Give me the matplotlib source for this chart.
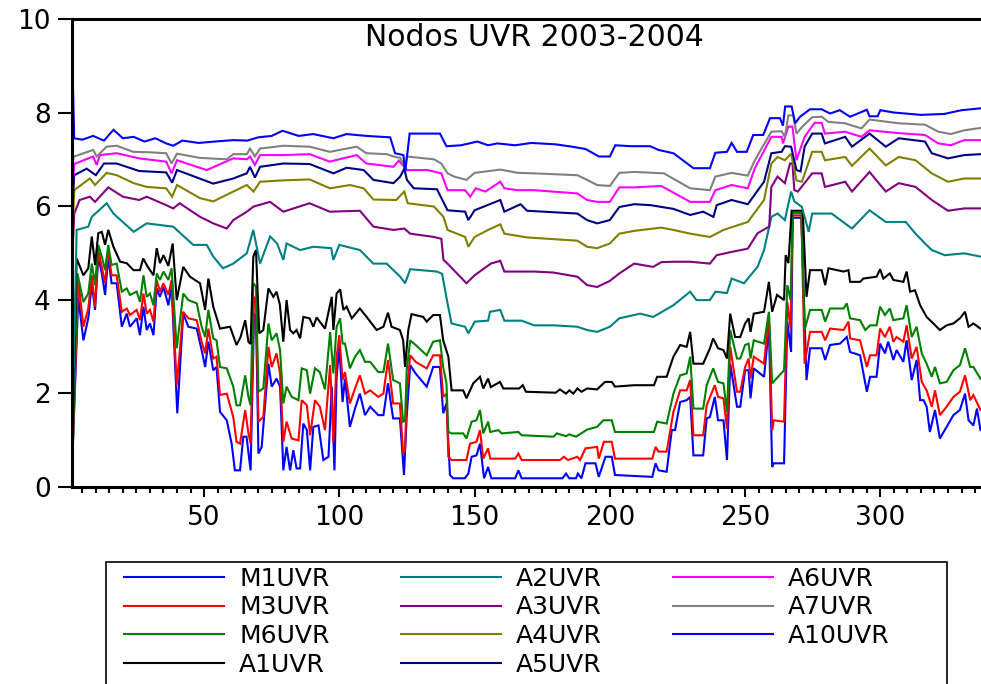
import matplotlib
matplotlib.use("Agg")
import matplotlib.pyplot as plt
from matplotlib.ticker import MultipleLocator
from matplotlib.patches import Rectangle

plt.rcParams['font.family'] = ['DejaVu Sans']

M1_PTS = [(1, 0.05), (3.5, 4.06), (5.4, 3.13), (7.2, 3.6), (8.5, 4.35), (9.7, 3.78), (10.9, 4.92), (12.2, 4.56),
          (13.4, 4.1), (14.6, 4.92), (15.8, 4.35), (17.7, 4.35), (19.6, 3.42), (21.4, 3.70), (22.6, 3.42), (25.1, 3.6),
          (26.3, 3.24), (27.6, 3.85), (28.8, 3.35), (30, 3.49), (31.3, 3.24), (32.5, 4.24), (33.7, 4.06), (35, 4.27),
          (36.8, 3.88), (38, 4.27), (40.1, 1.57), (42.3, 3.70), (44.2, 3.42), (47.3, 3.38), (49.1, 2.92), (50.4, 2.56),
          (51.6, 3.1), (53.4, 2.49), (54.6, 2.56), (55.9, 1.6), (58.4, 1.42), (60.2, 0.92), (61.4, 0.35), (63.3, 0.35),
          (64.5, 1.07), (65.7, 1.07), (67.2, 0.35), (68.5, 3.70), (69.2, 3.63), (70.1, 0.71), (71.3, 0.85), (73.8, 2.63),
          (75, 2.14), (76.8, 2.31), (78.1, 2.14), (79.3, 0.35), (80.5, 0.85), (81.8, 0.35), (83, 0.78), (84.2, 0.39),
          (85.5, 0.39), (86.7, 1.35), (88, 1.21), (89.2, 0.35), (90.4, 1.28), (92.3, 1.31), (94.1, 0.57), (96, 0.64),
          (97.2, 2.14), (98.2, 0.35), (99, 2.35), (100, 2.99), (101.2, 1.81), (102.1, 2.31), (103.9, 1.28), (105.8, 1.67),
          (107.6, 1.99), (109.5, 1.53), (111.4, 1.71), (114.4, 1.53), (116.3, 1.53), (118, 2.21), (119.9, 1.46),
          (122.4, 1.46), (123.9, 0.25), (124.9, 1.49), (126.2, 2.6), (128.2, 2.42), (132.3, 2.14), (134.7, 2.56),
          (137.2, 2.56), (138.4, 1.57), (139.6, 1.78), (140.9, 0.25), (142.1, 0.18), (146.4, 0.18), (147.7, 0.28),
          (148.9, 0.64), (150.7, 0.67), (152, 0.92), (153.5, 0.18), (155, 0.42), (156.2, 0.18), (165, 0.18),
          (166.2, 0.35), (167.4, 0.18), (182.5, 0.18), (183.8, 0.28), (185, 0.18), (187.5, 0.18), (188.2, 0.28),
          (189.5, 0.18), (191, 0.5), (194.7, 0.5), (195.9, 0.21), (198.4, 0.64), (200.7, 0.64), (201.9, 0.25),
          (215.7, 0.21), (216.9, 0.5), (218, 0.35), (221, 0.32), (222.9, 1.21), (224.1, 1.21), (226, 1.81),
          (228.4, 1.85), (229.7, 1.92), (230.9, 0.67), (234.5, 0.67), (235.8, 1.46), (237, 1.49), (238.8, 1.92),
          (240, 1.42), (242, 1.42), (243.3, 0.57), (244.5, 2.63), (247, 1.71), (248.2, 1.71), (250, 2.49),
          (251.3, 2.49), (252, 1.89), (253.2, 2.53), (257, 2.35), (258.8, 3.42), (260, 0.42), (260.6, 0.5),
          (264.4, 0.5), (265.6, 3.53), (267, 2.88), (267.6, 5.75), (270.8, 5.75), (272.7, 2.28), (274, 2.96),
          (278.3, 2.96), (279.6, 2.71), (281.4, 3.03), (285.1, 3.06), (287.6, 3.2), (288.8, 2.88), (292.5, 2.81),
          (295, 2.03), (296.2, 2.35), (298.6, 2.35), (299.9, 3.06), (301.7, 2.85), (302.9, 3.1), (304.8, 2.71),
          (306, 2.92), (308.5, 2.67), (309.7, 3.13), (311.6, 2.28), (313.4, 2.71), (314.7, 1.85), (316, 1.85),
          (317.1, 1.71), (318.3, 1.17), (320.2, 1.64), (322, 1.03), (324.5, 1.28), (327, 1.53), (329.4, 1.64),
          (331.3, 1.99), (332.6, 1.42), (334.4, 1.31), (335.7, 1.67), (337, 1.21)]

M3_PTS = [(1, 0.0), (3.5, 4.42), (5.4, 3.42), (7.2, 3.81), (8.5, 4.52), (9.7, 3.85), (10.9, 5.06), (12.2, 4.7),
          (13.4, 4.35), (14.6, 5.06), (15.8, 4.52), (17.7, 4.52), (19.6, 3.74), (21.4, 3.81), (22.6, 3.67), (25.1, 3.78),
          (26.3, 3.56), (27.6, 4.13), (28.8, 3.70), (30, 3.78), (31.3, 3.53), (32.5, 4.42), (33.7, 4.17), (35, 4.35),
          (36.8, 4.1), (38, 4.42), (39.9, 2.17), (42.3, 3.74), (44.2, 3.6), (47.3, 3.56), (49.1, 3.1), (50.4, 2.85),
          (51.6, 3.38), (53.4, 2.74), (54.6, 2.78), (55.9, 1.96), (58.4, 1.99), (60.8, 1.49), (62, 0.96), (63.3, 0.92),
          (65.2, 1.64), (66.4, 1.14), (67.2, 0.92), (68.5, 4.06), (69.2, 3.99), (70.1, 1.39), (71.9, 1.49), (73.8, 2.99),
          (75, 2.56), (76.8, 2.85), (78.1, 2.42), (79.3, 0.96), (80.5, 1.39), (82.4, 1.03), (84.9, 0.99), (86.1, 1.85),
          (88, 1.74), (89.2, 1.10), (91, 1.85), (92.8, 1.71), (94.7, 1.21), (96.6, 2.6), (97.8, 0.96), (99, 2.78),
          (100, 3.24), (101.2, 2.28), (102.1, 2.45), (103.9, 1.78), (105.8, 2.1), (107.6, 2.38), (109.5, 1.99),
          (111.4, 2.06), (114.4, 1.92), (116.3, 1.99), (118, 2.71), (119.9, 1.78), (122.4, 1.78), (123.6, 0.71),
          (124.3, 0.78), (124.9, 1.99), (126.2, 2.81), (128.2, 2.67), (132.3, 2.53), (134.7, 2.81), (137.2, 2.81),
          (138.4, 1.92), (139.6, 1.99), (140.3, 0.64), (141.5, 0.57), (147, 0.57), (148.3, 0.92), (150.7, 0.96),
          (152, 1.21), (153.2, 0.6), (155, 0.82), (155.8, 0.6), (165, 0.6), (166.2, 0.71), (167.4, 0.57),
          (181.6, 0.57), (183, 0.64), (184.5, 0.57), (188, 0.64), (189, 0.57), (191, 0.82), (195.3, 0.85),
          (195.9, 0.60), (197.8, 0.96), (200.7, 0.96), (201.9, 0.6), (215.7, 0.6), (216.9, 0.85), (218, 0.75),
          (221, 0.75), (223.5, 1.6), (226, 2.06), (228.4, 2.06), (229.7, 2.28), (230.9, 1.10), (234.5, 1.10),
          (235.8, 1.74), (238.8, 2.17), (240, 1.92), (242, 1.89), (243.3, 1.24), (244.5, 2.99), (247, 2.03),
          (248.2, 2.03), (250, 2.56), (251.3, 2.74), (252, 2.31), (253.2, 2.78), (257, 2.63), (258.8, 3.67),
          (260, 1.21), (260.6, 1.42), (264.4, 1.39), (265.6, 3.95), (266.8, 3.38), (267.6, 5.8), (270.8, 5.8),
          (272, 2.63), (274, 3.31), (278.3, 3.31), (279.6, 3.13), (281.4, 3.38), (286.4, 3.35), (288.2, 3.53),
          (288.8, 3.17), (292.5, 3.13), (295, 2.56), (296.2, 2.81), (298.6, 2.81), (299.9, 3.38), (301.7, 3.2),
          (303.5, 3.42), (304.8, 3.1), (306, 3.2), (308.5, 3.1), (309.7, 3.45), (311.6, 2.74), (313.4, 2.99),
          (315.3, 2.24), (317.1, 2.06), (319, 1.71), (320.2, 2.06), (322, 1.53), (324.5, 1.71), (327, 1.92),
          (329.4, 2.03), (331.3, 2.38), (333.2, 1.85), (334.4, 1.96), (337, 1.64)]

M6_PTS = [(1, 0.0), (3.2, 4.56), (5.4, 3.95), (7.2, 4.13), (8.5, 4.77), (9.7, 4.31), (10.9, 5.17), (12.2, 4.92),
          (13.4, 4.63), (14.6, 5.17), (15.8, 4.74), (17.7, 4.77), (19.6, 4.17), (21.4, 4.24), (22.6, 4.1), (25.1, 4.17),
          (26.3, 3.95), (27.6, 4.52), (28.8, 4.06), (30, 4.13), (31.3, 3.88), (32.5, 4.56), (33.7, 4.42), (35, 4.6),
          (36.8, 4.42), (38, 4.67), (39.9, 2.96), (42.3, 4.13), (44.2, 3.99), (47.3, 3.92), (49.1, 3.42), (50.4, 3.2),
          (51.6, 3.78), (53.4, 3.17), (54.6, 3.13), (55.9, 2.56), (58.4, 2.53), (60.8, 2.14), (62, 1.74), (63.3, 1.74),
          (65.2, 2.38), (66.4, 1.92), (67.2, 1.74), (68.2, 4.35), (69.2, 4.28), (70.1, 2.03), (71.9, 2.1), (73.8, 3.49),
          (75, 3.13), (76.8, 3.28), (78.1, 2.92), (79.3, 1.78), (80.5, 2.14), (82.4, 1.92), (84.9, 1.85), (86.1, 2.53),
          (88, 2.49), (89.2, 1.99), (91, 2.53), (92.8, 2.45), (94.7, 2.08), (96.6, 3.31), (97.8, 2.42), (99, 3.42),
          (100.3, 3.6), (101.2, 3.06), (102.1, 3.06), (103.9, 2.53), (105.8, 2.78), (107.6, 2.92), (109.5, 2.67),
          (111.4, 2.67), (114.4, 2.45), (116.3, 2.45), (118, 3.06), (119.9, 2.28), (122.4, 2.21), (123.6, 1.39),
          (124.3, 1.42), (124.9, 2.49), (126.2, 3.13), (128.2, 3.03), (132.3, 2.81), (134.7, 3.10), (137.2, 3.13),
          (138.4, 2.56), (139.6, 2.21), (140.3, 1.17), (141.5, 1.14), (145.8, 1.14), (147, 1.03), (148.9, 1.39),
          (150.7, 1.42), (152, 1.64), (153.2, 1.14), (155, 1.39), (155.8, 1.17), (158.8, 1.21), (160, 1.14),
          (166.2, 1.17), (167.4, 1.10), (179.2, 1.07), (180.4, 1.14), (183.8, 1.08), (185, 1.12), (187.5, 1.07),
          (191.6, 1.22), (195.3, 1.28), (197.6, 1.42), (200.7, 1.42), (201.9, 1.17), (209, 1.17), (216.3, 1.17),
          (217.5, 1.39), (221, 1.35), (223.5, 1.99), (226, 2.38), (228.4, 2.42), (229.7, 2.78), (230.9, 1.67),
          (234.5, 1.67), (235.8, 2.17), (238.2, 2.53), (240, 2.24), (242, 2.21), (243.3, 1.6), (244.5, 3.35),
          (247, 2.74), (248.2, 2.74), (250, 3.03), (251.3, 3.06), (252, 2.74), (253.2, 3.13), (257, 3.06),
          (258.8, 3.74), (260, 2.21), (264.4, 2.49), (265.6, 4.31), (266.8, 3.99), (267.6, 5.85), (270.8, 5.85),
          (272, 3.35), (274, 3.78), (278.3, 3.78), (279.6, 3.53), (281.4, 3.81), (286.4, 3.81), (287.6, 3.92),
          (288.8, 3.6), (292.5, 3.56), (294.4, 3.35), (296.2, 3.45), (298.6, 3.45), (299.9, 3.85), (301.7, 3.67),
          (303.5, 3.81), (304.8, 3.56), (308.5, 3.6), (309.7, 3.88), (311.6, 3.2), (313.4, 3.42), (315.3, 2.85),
          (317.1, 2.63), (319, 2.35), (320.2, 2.56), (322, 2.21), (324.5, 2.24), (327, 2.49), (329.4, 2.6),
          (331.3, 2.96), (333.2, 2.56), (334.4, 2.56), (337, 2.31)]

A1_PTS = [(1, 0.05), (2.9, 4.88), (5.4, 4.52), (7.2, 4.67), (8.5, 5.35), (9.7, 4.74), (10.9, 5.42), (12.2, 5.45),
          (13.4, 5.17), (14.6, 5.49), (16.5, 5.13), (19, 4.81), (21.4, 4.78), (23.9, 4.63), (26.3, 4.63), (27.5, 4.88),
          (29, 4.72), (31.3, 4.52), (32.5, 5.1), (33.7, 4.78), (35, 4.95), (36.8, 4.72), (38.4, 5.2), (39.9, 3.99),
          (42.3, 4.7), (44.8, 4.49), (48.5, 4.35), (50.4, 3.78), (51.6, 4.45), (53.4, 3.85), (55.9, 3.38), (59.6, 3.42),
          (62, 3.03), (63.5, 3.2), (65.2, 3.56), (66.4, 3.10), (67.2, 3.05), (68.2, 4.92), (69.2, 5.06), (70.4, 3.28),
          (71.9, 3.35), (73.8, 4.24), (75.6, 4.06), (76.8, 4.17), (78, 3.9), (79.3, 3.10), (80.5, 3.99), (81.8, 3.35),
          (83, 3.28), (84.2, 3.35), (85.5, 3.17), (86.7, 3.63), (89, 3.6), (90.4, 3.42), (91.6, 3.62), (94.7, 3.38),
          (97.2, 4.06), (97.8, 3.35), (99, 4.13), (100.3, 4.22), (101.5, 3.78), (102.7, 3.85), (104.6, 3.6),
          (107.6, 3.81), (110.1, 3.63), (113.8, 3.35), (116.3, 3.42), (118, 3.72), (119.3, 3.42), (122.4, 3.35),
          (123.6, 3.13), (124.3, 2.56), (125.5, 3.35), (126.7, 3.69), (131, 3.63), (132.3, 3.53), (134.7, 3.67),
          (137.2, 3.67), (138.4, 3.13), (140.3, 2.78), (141.5, 2.06), (145.8, 2.06), (147, 1.89), (149.5, 2.21),
          (152, 2.35), (153.2, 2.1), (155, 2.31), (156, 2.13), (159.4, 2.24), (160.6, 2.1), (166.5, 2.1),
          (167.8, 2.17), (169, 2.03), (180, 2.01), (181.5, 2.08), (183.8, 1.99), (185, 2.06), (186.5, 1.99),
          (188, 2.1), (189.5, 2.03), (191.6, 2.1), (195.3, 2.08), (198.2, 2.24), (200.7, 2.24), (201.9, 2.14),
          (209, 2.17), (216.3, 2.17), (217.5, 2.35), (221, 2.35), (223.5, 2.78), (226, 3.03), (228.4, 2.99),
          (229.7, 3.31), (230.9, 2.63), (234.5, 2.63), (237, 2.96), (238.2, 3.17), (240, 2.96), (242, 2.92),
          (243.3, 2.74), (244.5, 3.7), (246.3, 3.2), (248.2, 3.2), (250, 3.49), (251.3, 3.6), (252, 3.31),
          (253.2, 3.70), (257, 3.74), (258.8, 4.38), (260, 3.74), (261.8, 4.1), (264.4, 3.99), (265, 4.95),
          (266, 4.78), (267.2, 5.9), (271.3, 5.9), (272.7, 4.06), (274, 4.63), (278.3, 4.63), (279.6, 4.31),
          (280.8, 4.67), (286.4, 4.6), (288.2, 4.63), (288.8, 4.38), (292.5, 4.38), (293.7, 4.45), (298.6, 4.49),
          (299.9, 4.65), (301.1, 4.45), (303.5, 4.56), (304.8, 4.42), (308.5, 4.38), (309.7, 4.6), (311, 4.17),
          (312.8, 4.2), (314.7, 3.88), (317.1, 3.63), (319.6, 3.49), (322, 3.35), (324.5, 3.45), (327, 3.49),
          (329.4, 3.6), (331.3, 3.74), (332.6, 3.42), (334.4, 3.49), (337, 3.38)]

A2_PTS = [(1, 0.2), (2.9, 5.49), (7.2, 5.56), (8.5, 5.77), (14, 6.06), (16.5, 5.84), (24, 5.45), (28.8, 5.63),
          (38.6, 5.56), (46, 5.17), (51, 5.17), (53.4, 4.92), (57, 4.67), (60.8, 4.77), (65.8, 4.99), (68.2, 5.49),
          (70.7, 4.77), (74.4, 5.35), (77, 5.2), (79.3, 4.85), (80.5, 5.2), (85.5, 5.06), (90.4, 5.13), (97, 5.1),
          (97.8, 4.85), (100, 5.17), (107.6, 5.06), (112.6, 4.77), (117.5, 4.77), (122.5, 4.49), (124.3, 4.35),
          (126.2, 4.65), (136.1, 4.6), (138, 4.55), (140, 3.92), (141.5, 3.49), (146.5, 3.42), (147.7, 3.28),
          (150.1, 3.53), (155, 3.55), (155.7, 3.74), (159.5, 3.78), (161, 3.55), (167.4, 3.55), (172, 3.45),
          (179.4, 3.45), (188, 3.42), (191.6, 3.35), (195.3, 3.31), (200, 3.42), (203.5, 3.6), (211.2, 3.7),
          (216, 3.63), (223.5, 3.88), (229.7, 4.17), (232, 3.99), (237, 3.99), (239, 4.17), (243.3, 4.14),
          (245, 4.45), (249.6, 4.35), (254.6, 4.70), (257, 5.06), (259.7, 5.77), (262, 5.84), (264.7, 5.70),
          (267, 6.31), (268.2, 6.1), (271, 5.98), (273.5, 5.45), (274.8, 5.84), (282, 5.84), (289.5, 5.52),
          (296, 5.91), (302, 5.66), (309.4, 5.66), (313, 5.41), (316.5, 5.2), (319, 5.06), (323.8, 4.95),
          (331, 4.99), (337, 4.92)]

A3_PTS = [(1, 4.5), (2, 5.84), (4, 6.13), (7.8, 6.2), (9.7, 6.09), (14.6, 6.4), (20, 6.2), (26, 6.13), (28.8, 6.2),
          (36, 6.02), (38.6, 5.95), (41, 6.06), (48.5, 5.77), (53.4, 5.63), (58.4, 5.52), (60.8, 5.70), (65.8, 5.88),
          (68.3, 5.99), (74.4, 6.09), (79.3, 5.88), (89, 6.06), (96.5, 5.88), (107.6, 5.90), (112.6, 5.56),
          (120, 5.49), (124, 5.52), (126.2, 5.41), (135, 5.34), (137.7, 5.30), (138.5, 4.85), (140, 4.77),
          (147, 4.35), (150, 4.52), (156, 4.77), (159.5, 4.83), (161, 4.6), (172, 4.6), (179, 4.58), (188, 4.49),
          (191.6, 4.31), (195.3, 4.27), (200, 4.4), (203.5, 4.56), (209, 4.77), (216, 4.70), (219, 4.80),
          (223.5, 4.81), (229.7, 4.81), (237, 4.77), (239.5, 4.95), (245, 5.02), (251, 5.09), (254.6, 5.42),
          (258.9, 5.56), (259.7, 6.41), (262, 6.63), (264.7, 6.49), (266.6, 6.91), (267.5, 6.91), (268.2, 6.34),
          (269.5, 6.31), (274.8, 6.70), (278.3, 6.70), (279.5, 6.41), (287, 6.52), (289.5, 6.31), (296, 6.73),
          (302, 6.31), (306.8, 6.49), (313, 6.41), (319, 6.13), (325, 5.90), (331, 5.95), (337, 5.95)]

A4_PTS = [(1, 4.8), (2, 6.34), (7.8, 6.59), (9.7, 6.45), (14, 6.71), (17.7, 6.66), (24, 6.49), (28.8, 6.41),
          (36, 6.38), (38.2, 6.2), (40, 6.45), (48.5, 6.17), (53.4, 6.10), (60.8, 6.31), (65.8, 6.45), (68.3, 6.31),
          (70.7, 6.52), (79.3, 6.55), (89, 6.57), (96.5, 6.38), (104, 6.45), (109, 6.38), (112.6, 6.14), (121, 6.13),
          (124, 6.31), (125.3, 6.06), (135, 5.99), (138.5, 5.77), (140, 5.49), (146.5, 5.34), (147.7, 5.13),
          (150, 5.34), (155, 5.49), (159.5, 5.61), (161, 5.41), (169.4, 5.33), (188, 5.26), (191.6, 5.13),
          (195.3, 5.10), (200, 5.2), (203.5, 5.41), (209, 5.47), (219, 5.54), (223.5, 5.49), (229.7, 5.41),
          (237, 5.34), (242, 5.49), (251, 5.66), (257, 6.13), (259.7, 6.91), (262, 7.05), (264.7, 6.98),
          (267, 7.12), (269, 6.55), (271, 6.52), (274.8, 7.16), (278.3, 7.16), (279.5, 6.98), (287, 7.05),
          (289.5, 6.86), (296, 7.23), (302, 6.87), (306.8, 7.05), (313, 6.98), (319, 6.70), (325, 6.52),
          (331, 6.59), (337, 6.59)]

A5_PTS = [(1, 5.6), (2, 6.66), (6.6, 6.80), (10, 6.66), (13, 6.91), (17.7, 6.91), (26, 6.75), (36, 6.72),
          (38.2, 6.5), (40, 6.77), (53.4, 6.48), (60.8, 6.59), (65.8, 6.70), (67, 6.84), (68.8, 6.61), (70.7, 6.84),
          (79.3, 6.91), (89, 6.90), (96.5, 6.73), (97.8, 6.70), (102.7, 6.82), (109, 6.77), (112.6, 6.56),
          (120, 6.49), (122.5, 6.63), (124, 6.80), (125, 6.56), (127.5, 6.38), (136.1, 6.36), (140, 5.91),
          (146.5, 5.88), (147.7, 5.70), (150, 5.91), (159.5, 6.13), (161, 5.88), (167, 6.04), (169.4, 5.9),
          (188, 5.84), (191.6, 5.70), (195.3, 5.63), (200, 5.70), (203.5, 5.98), (209, 6.04), (215, 6.02),
          (223.5, 5.94), (229.7, 5.81), (234.5, 5.88), (238.3, 5.77), (239.5, 6.02), (245, 6.13), (251, 6.04),
          (257, 6.52), (259.7, 7.13), (263.5, 7.16), (264.7, 7.28), (267, 7.27), (269, 6.77), (270.5, 6.74),
          (272, 7.27), (274.8, 7.55), (278.3, 7.55), (279.5, 7.34), (287, 7.48), (289.5, 7.27), (296, 7.55),
          (302, 7.27), (306.8, 7.45), (316.5, 7.38), (319, 7.13), (325, 7.02), (331, 7.09), (337, 7.11)]

A6_PTS = [(1, 5.91), (2, 6.9), (9, 7.06), (10.3, 6.88), (11.5, 7.09), (17.7, 7.13), (26, 7.02), (36, 6.95),
          (38, 6.70), (40, 6.98), (51, 6.77), (60.8, 7.02), (65.8, 7.0), (67, 7.06), (68.8, 6.88), (70.7, 7.09),
          (79.3, 7.09), (89, 7.11), (96.5, 6.95), (97.8, 6.97), (106.4, 7.09), (110, 6.91), (120, 6.84), (122, 6.97),
          (125, 6.77), (132.6, 6.77), (137.7, 6.70), (140, 6.34), (146.5, 6.34), (148.4, 6.2), (150.4, 6.38),
          (154, 6.31), (159.5, 6.52), (161, 6.38), (166, 6.34), (172, 6.34), (188, 6.27), (191.6, 6.13),
          (195.3, 6.09), (200, 6.09), (203.5, 6.40), (209, 6.40), (219, 6.43), (229.7, 6.09), (237, 6.09),
          (239, 6.34), (245, 6.45), (251, 6.38), (253.6, 6.81), (259.7, 7.48), (263.5, 7.48), (264, 7.34),
          (266, 7.7), (267.5, 7.7), (269, 6.98), (272, 7.48), (275.7, 7.78), (278.3, 7.78), (279.5, 7.55),
          (287, 7.59), (293, 7.48), (296, 7.62), (306.8, 7.56), (316.5, 7.52), (321.4, 7.34), (326, 7.30),
          (331, 7.41), (337, 7.41)]

A7_PTS = [(1, 6.9), (2, 7.06), (9, 7.2), (10.3, 7.06), (14, 7.27), (17.7, 7.29), (23.8, 7.16), (30, 7.15),
          (36, 7.13), (38, 6.91), (40, 7.12), (48.5, 7.03), (58.4, 7.0), (60.8, 7.11), (65.8, 7.11), (67, 7.23),
          (68.8, 7.06), (70.7, 7.23), (79.3, 7.29), (89, 7.27), (96.5, 7.16), (106.4, 7.27), (110, 7.13),
          (117.5, 7.11), (120, 7.06), (122.5, 7.03), (124, 6.84), (125, 7.06), (135, 7.0), (137.7, 6.91),
          (140, 6.70), (142.5, 6.63), (147, 6.56), (150, 6.71), (159.5, 6.78), (166, 6.71), (172, 6.70),
          (188, 6.66), (191.6, 6.56), (195.3, 6.45), (200, 6.43), (203.5, 6.71), (209, 6.73), (220, 6.70),
          (229.7, 6.38), (237, 6.34), (239, 6.63), (245, 6.71), (251, 6.65), (253.6, 6.98), (259.7, 7.59),
          (263.5, 7.6), (264.7, 7.48), (266, 7.94), (267.8, 7.94), (269, 7.55), (271, 7.69), (274.8, 7.9),
          (278.3, 7.91), (280.8, 7.80), (287, 7.77), (293, 7.66), (296, 7.85), (306.8, 7.77), (316.5, 7.74),
          (321.4, 7.59), (326, 7.54), (331, 7.62), (337, 7.67)]

A10_PTS = [(1, 9.9), (2, 7.45), (5, 7.42), (9, 7.5), (13, 7.4), (16.5, 7.63), (20, 7.45), (24, 7.48), (28, 7.38),
           (32, 7.45), (36, 7.34), (38.6, 7.29), (42, 7.4), (48, 7.35), (54, 7.38), (60.8, 7.41), (66, 7.4),
           (70, 7.47), (75, 7.5), (79, 7.61), (85, 7.5), (90.3, 7.54), (97.8, 7.45), (102.7, 7.54), (110, 7.5),
           (118.8, 7.47), (120.6, 7.13), (123.7, 7.09), (124.3, 6.70), (126, 7.55), (137.2, 7.55), (139.6, 7.28),
           (145, 7.3), (151, 7.38), (155, 7.3), (158.4, 7.34), (165, 7.3), (171, 7.35), (180, 7.32), (186, 7.27),
           (191, 7.22), (196, 7.06), (200, 7.06), (202, 7.3), (208, 7.28), (214.9, 7.28), (218, 7.2),
           (223.5, 7.13), (230.9, 6.81), (237, 6.81), (239, 7.14), (243.3, 7.16), (245, 7.35), (247, 7.16),
           (250.6, 7.16), (253, 7.52), (256.7, 7.52), (259.2, 7.88), (262.9, 7.88), (264, 7.72), (264.8, 8.13),
           (267.2, 8.13), (268.5, 7.77), (270.3, 7.91), (274, 8.07), (278.3, 8.07), (281.4, 7.98), (285, 8.05),
           (288.8, 7.91), (295, 8.06), (296, 7.92), (299, 7.92), (300, 8.05), (305, 8.0), (315, 7.95),
           (323.6, 7.97), (330, 8.05), (337, 8.09)]

SERIES = [
    ("M1UVR", M1_PTS, "#0000ff"),
    ("M3UVR", M3_PTS, "#ff0000"),
    ("M6UVR", M6_PTS, "#008000"),
    ("A1UVR", A1_PTS, "#000000"),
    ("A2UVR", A2_PTS, "#008080"),
    ("A3UVR", A3_PTS, "#800080"),
    ("A4UVR", A4_PTS, "#808000"),
    ("A5UVR", A5_PTS, "#000080"),
    ("A6UVR", A6_PTS, "#ff00ff"),
    ("A7UVR", A7_PTS, "#808080"),
    ("A10UVR", A10_PTS, "#0000ff"),
]

W, H = 981, 684
fig = plt.figure(figsize=(W / 100, H / 100), dpi=100)
ax = fig.add_axes([71.5 / W, (H - 486.7) / H, (W - 71.5) / W, (486.7 - 19) / H])

for name, pts, col in SERIES:
    xs = [p[0] for p in pts]
    ys = [p[1] for p in pts]
    ax.plot(xs, ys, color=col, lw=1.5, label=name, solid_joinstyle="miter")

ax.set_xlim(1, 337.2)
ax.set_ylim(0, 10)
ax.set_yticks([0, 2, 4, 6, 8, 10])
ax.xaxis.set_minor_locator(MultipleLocator(5))
ax.set_xticks([50, 100, 150, 200, 250, 300])

for side in ("left", "bottom", "top"):
    ax.spines[side].set_linewidth(2.2)
ax.spines["right"].set_visible(False)

ax.tick_params(axis="y", which="major", direction="out", length=10, width=1.5, pad=5, labelsize=19)
ax.tick_params(axis="x", which="major", direction="out", length=7.5, width=1.5, pad=6, labelsize=19)
ax.tick_params(axis="x", which="minor", direction="out", length=4.5, width=1.5)

fig.text(534 / W, 1 - 38 / H, "Nodos UVR 2003-2004", ha="center", va="center", fontsize=21.5)

# legend box runs off the bottom edge, as in the original
fig.patches.append(Rectangle((106 / W, -0.05), (947 - 106) / W, (H - 562) / H + 0.05,
                             transform=fig.transFigure, fill=False, edgecolor="black", lw=1.2))
fs = 18
pad = 0.3
leg = fig.legend(loc="upper left", bbox_to_anchor=((124 - pad * fs * 100 / 72) / W, 1 - 559 / H), ncol=3,
                 fontsize=fs, frameon=False, borderaxespad=0, borderpad=pad,
                 handlelength=4.0, handletextpad=0.6, columnspacing=2.85, labelspacing=0.19)

fig.savefig("out.png", dpi=100)
